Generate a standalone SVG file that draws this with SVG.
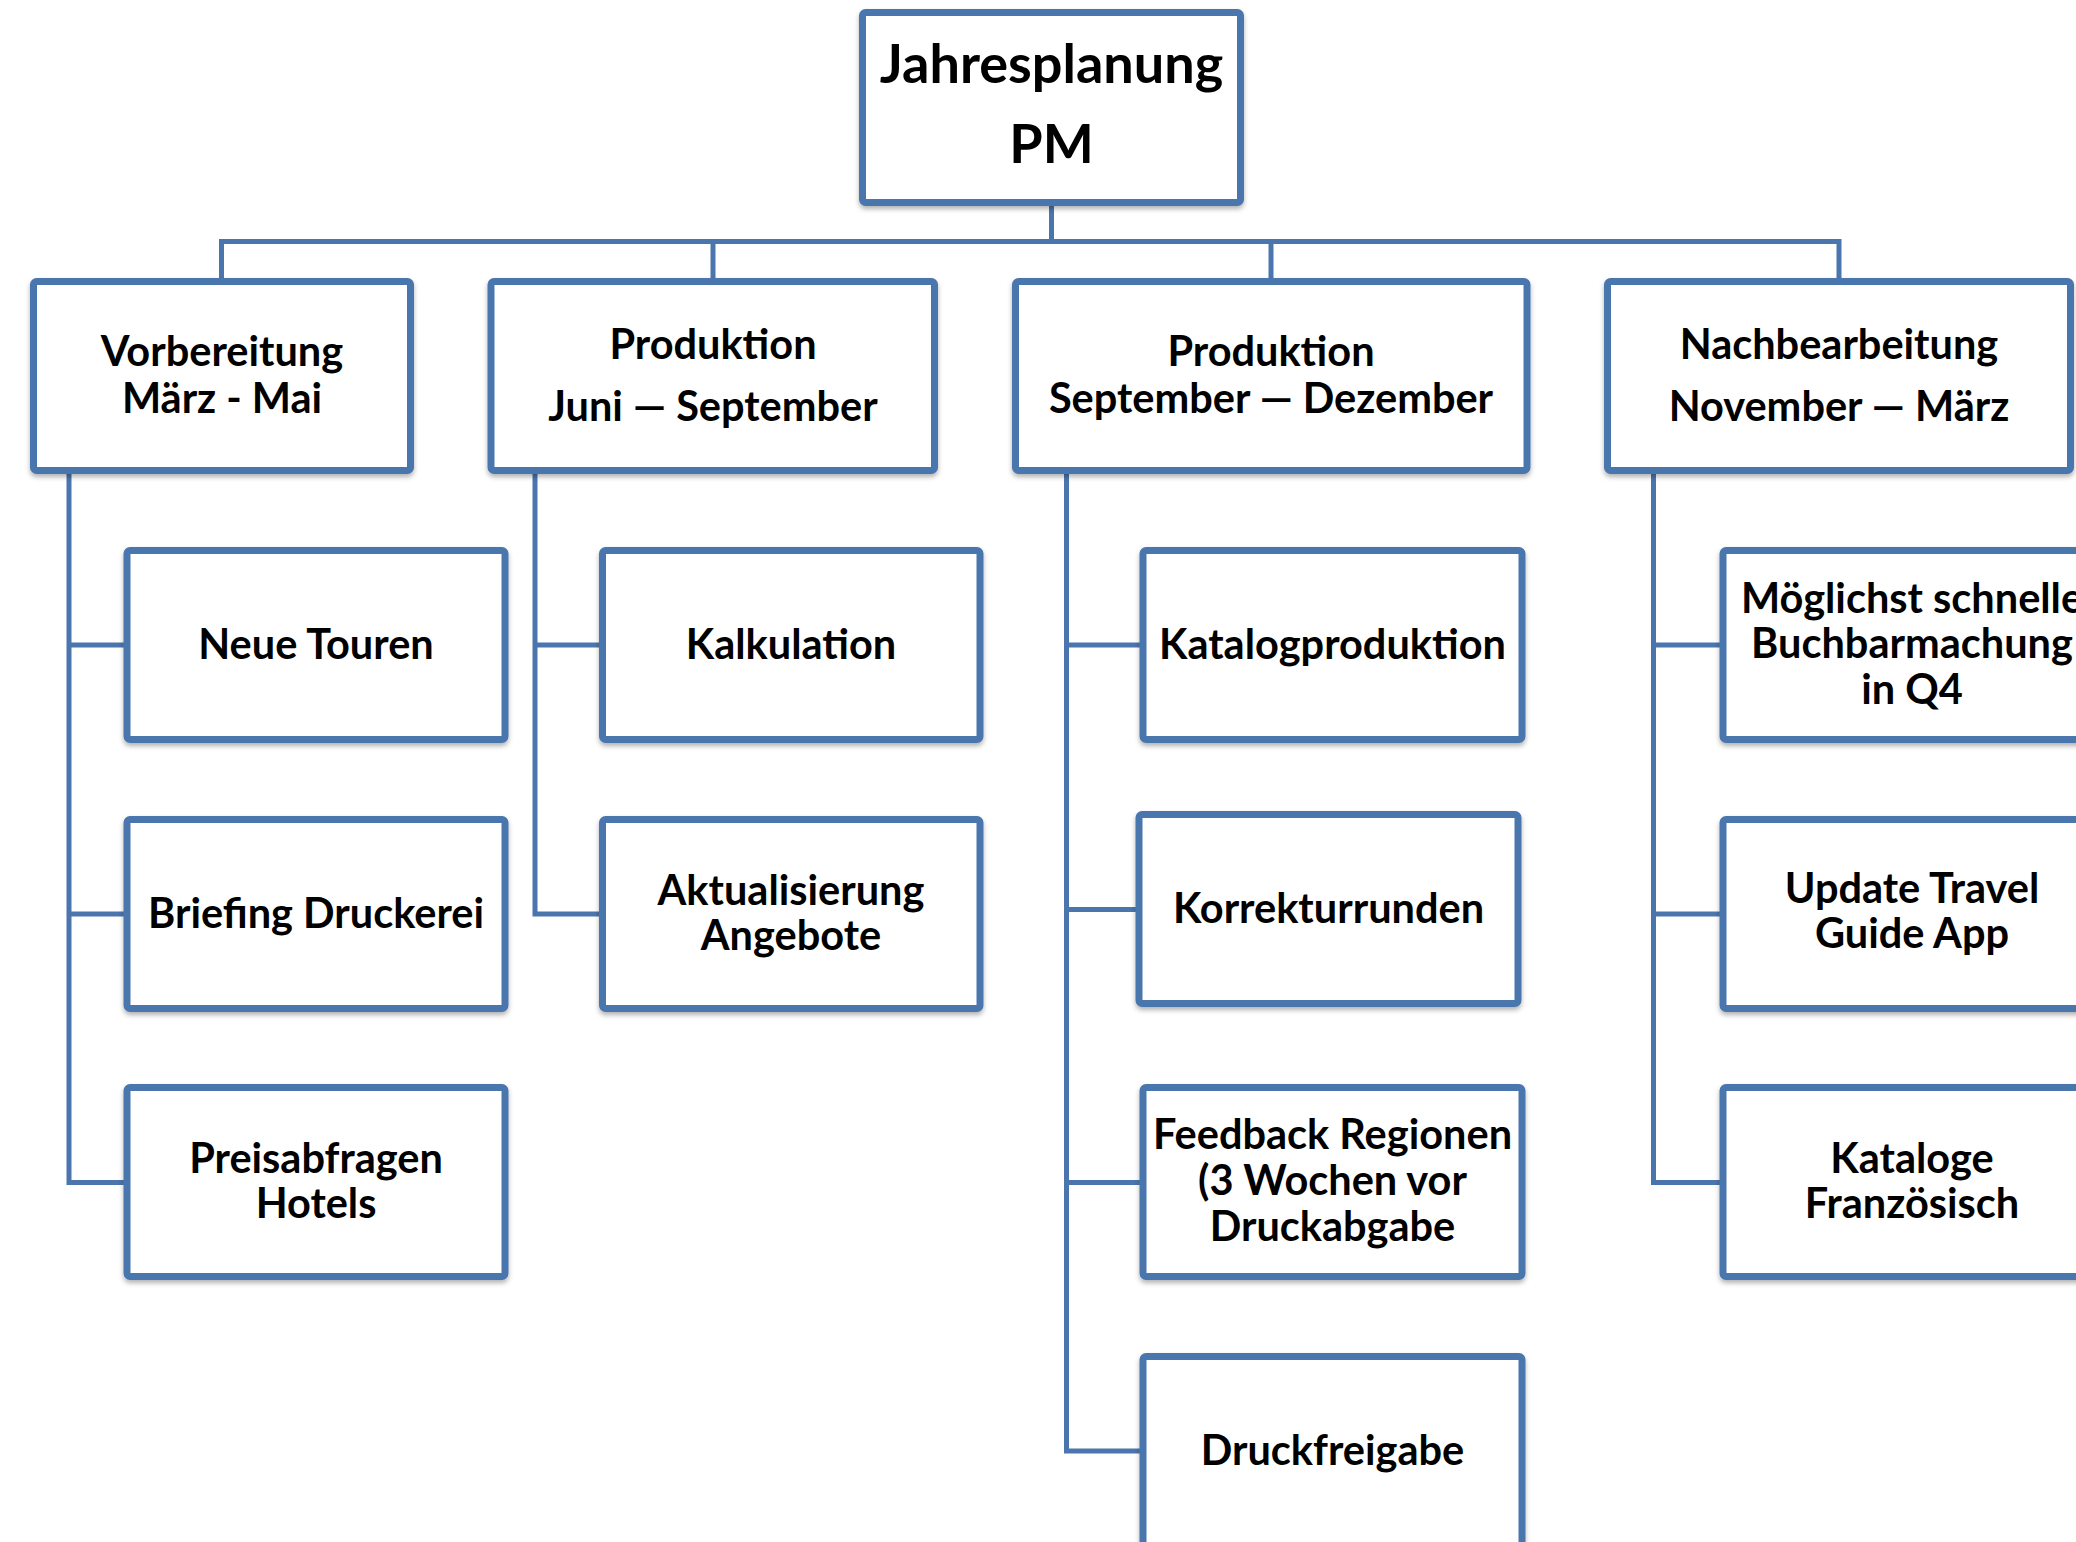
<svg xmlns="http://www.w3.org/2000/svg" width="2076" height="1542" viewBox="0 0 2076 1542">
<style>
.box{fill:#ffffff;stroke:#4a76ad;stroke-width:7;filter:url(#sh)}
.con{fill:none;stroke:#4a76ad;stroke-width:5;stroke-linejoin:miter}
text{font-family:Lato,"Liberation Sans",sans-serif;font-weight:700;fill:#000;text-anchor:middle}
.t{font-size:41.5px}
.r{font-size:54px}
</style>
<defs>
<filter id="sh" x="-5%" y="-5%" width="110%" height="115%">
<feDropShadow dx="0" dy="3" stdDeviation="2.5" flood-color="#000" flood-opacity="0.3"/>
</filter>
</defs>
<rect width="2076" height="1542" fill="#ffffff"/>
<g id="connectors">
<path class="con" d="M1051.5,206 V241.5"/>
<path class="con" d="M221.5,278 V241.5 H1839 V278"/>
<path class="con" d="M713,241.5 V278"/>
<path class="con" d="M1271,241.5 V278"/>
<path class="con" d="M69,474 V1182.5 H127 M69,645 H127 M69,914 H127"/>
<path class="con" d="M535,474 V914 H602 M535,645 H602"/>
<path class="con" d="M1066.5,474 V1451 H1143 M1066.5,645 H1143 M1066.5,909.5 H1139 M1066.5,1182.5 H1143"/>
<path class="con" d="M1653.5,474 V1182.5 H1723 M1653.5,645 H1723 M1653.5,914 H1723"/>
</g>
<g id="root">
<rect class="box" x="862.5" y="12.5" width="378" height="190" rx="3"/>
<text class="r" x="1051.5" y="83">Jahresplanung</text>
<text class="r" x="1051.5" y="163">PM</text>
</g>
<g id="vorbereitung">
<rect class="box" x="33.5" y="281.5" width="377" height="189" rx="3"/>
<text class="t" x="222" y="365.5">Vorbereitung</text>
<text class="t" x="222" y="413">März - Mai</text>
</g>
<g id="produktion1">
<rect class="box" x="491" y="281.5" width="443.5" height="189" rx="3"/>
<text class="t" x="713" y="359">Produktion</text>
<text class="t" x="713" y="421">Juni — September</text>
</g>
<g id="produktion2">
<rect class="box" x="1015.5" y="281.5" width="511.5" height="189" rx="3"/>
<text class="t" x="1271" y="365.5">Produktion</text>
<text class="t" x="1271" y="412.5">September — Dezember</text>
</g>
<g id="nachbearbeitung">
<rect class="box" x="1607.5" y="281.5" width="463" height="189" rx="3"/>
<text class="t" x="1839" y="359">Nachbearbeitung</text>
<text class="t" x="1839" y="421">November — März</text>
</g>
<g id="neue-touren">
<rect class="box" x="127" y="550.5" width="378" height="189" rx="3"/>
<text class="t" x="316" y="659">Neue Touren</text>
</g>
<g id="briefing-druckerei">
<rect class="box" x="127" y="819.5" width="378" height="189" rx="3"/>
<text class="t" x="316" y="928">Briefing Druckerei</text>
</g>
<g id="preisabfragen-hotels">
<rect class="box" x="127" y="1087.5" width="378" height="189" rx="3"/>
<text class="t" x="316" y="1172.5">Preisabfragen</text>
<text class="t" x="316" y="1218">Hotels</text>
</g>
<g id="kalkulation">
<rect class="box" x="602.5" y="550.5" width="377.5" height="189" rx="3"/>
<text class="t" x="791" y="659">Kalkulation</text>
</g>
<g id="aktualisierung-angebote">
<rect class="box" x="602.5" y="819.5" width="377.5" height="189" rx="3"/>
<text class="t" x="791" y="904.5">Aktualisierung</text>
<text class="t" x="791" y="950">Angebote</text>
</g>
<g id="katalogproduktion">
<rect class="box" x="1143" y="550.5" width="379" height="189" rx="3"/>
<text class="t" x="1332.5" y="659">Katalogproduktion</text>
</g>
<g id="korrekturrunden">
<rect class="box" x="1139" y="814.5" width="379" height="189" rx="3"/>
<text class="t" x="1328.5" y="923">Korrekturrunden</text>
</g>
<g id="feedback-regionen">
<rect class="box" x="1143" y="1087.5" width="379" height="189" rx="3"/>
<text class="t" x="1332.5" y="1149">Feedback Regionen</text>
<text class="t" x="1332.5" y="1195">(3 Wochen vor</text>
<text class="t" x="1332.5" y="1241">Druckabgabe</text>
</g>
<g id="druckfreigabe">
<rect class="box" x="1143" y="1356.5" width="379" height="189" rx="3"/>
<text class="t" x="1332.5" y="1465">Druckfreigabe</text>
</g>
<g id="buchbarmachung">
<rect class="box" x="1723" y="550.5" width="378" height="189" rx="3"/>
<text class="t" x="1912" y="612.5">Möglichst schnelle</text>
<text class="t" x="1912" y="658">Buchbarmachung</text>
<text class="t" x="1912" y="703.5">in Q4</text>
</g>
<g id="travel-guide-app">
<rect class="box" x="1723" y="819.5" width="378" height="189" rx="3"/>
<text class="t" x="1912" y="902.5">Update Travel</text>
<text class="t" x="1912" y="948">Guide App</text>
</g>
<g id="kataloge-franzoesisch">
<rect class="box" x="1723" y="1087.5" width="378" height="189" rx="3"/>
<text class="t" x="1912" y="1172.5">Kataloge</text>
<text class="t" x="1912" y="1218">Französisch</text>
</g>
</svg>
